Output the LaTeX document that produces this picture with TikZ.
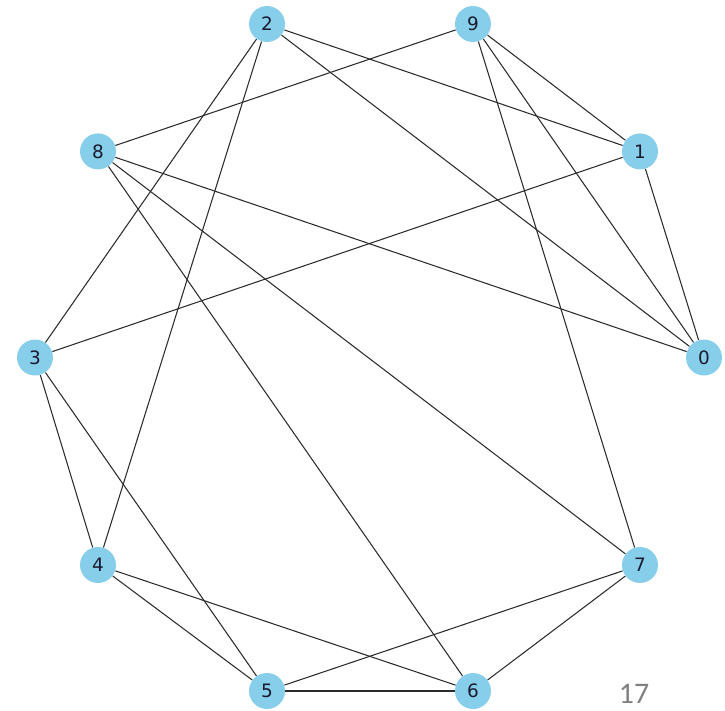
\documentclass[tikz,border=0pt]{standalone}
\usepackage{fontspec}
\setmainfont{DejaVu Sans}
\newfontfamily\pagefont{Carlito}
\usepackage{tikz}
\usetikzlibrary{positioning}
\definecolor{vertexFill}{HTML}{87CEEB}
\definecolor{vertexText}{HTML}{1A1A2E}
\definecolor{edgeLine}{HTML}{2B2B2B}
\definecolor{pageGray}{HTML}{7F7F7F}

\begin{document}
\begin{tikzpicture}[
        x=0.02cm, y=-0.02cm,
        vertex/.style={
            circle,
            fill=vertexFill,
            inner sep=0pt,
            minimum size=0.72cm,
            text=vertexText,
            font=\fontsize{10.5}{12}\selectfont
        },
        edge/.style={
            draw=edgeLine,
            line width=0.6pt
        }
    ]

    \useasboundingbox (0,0) rectangle (725,711);

    % vertices on the ring
    \node[vertex] (v0) at (704,357.5) {0};
    \node[vertex] (v1) at (640,151.4) {1};
    \node[vertex] (v9) at (473,24) {9};
    \node[vertex] (v2) at (267,24) {2};
    \node[vertex] (v8) at (98,151.4) {8};
    \node[vertex] (v3) at (35,357.5) {3};
    \node[vertex] (v4) at (98,565) {4};
    \node[vertex] (v5) at (267,691) {5};
    \node[vertex] (v6) at (473,691) {6};
    \node[vertex] (v7) at (640,565) {7};

    % edges
    \foreach \a/\b in {v2/v1, v2/v0, v2/v3, v2/v4,
                       v9/v8, v9/v1, v9/v0, v9/v7,
                       v1/v0, v1/v3,
                       v8/v0, v8/v7, v8/v6,
                       v3/v4, v3/v5,
                       v4/v5, v4/v6,
                       v5/v6, v5/v7,
                       v6/v7}
        \draw[edge] (\a) -- (\b);

    \node[text=pageGray, font=\pagefont\fontsize{17}{20}\selectfont] (pagenum) at (634,694) {17};

\end{tikzpicture}
\end{document}
